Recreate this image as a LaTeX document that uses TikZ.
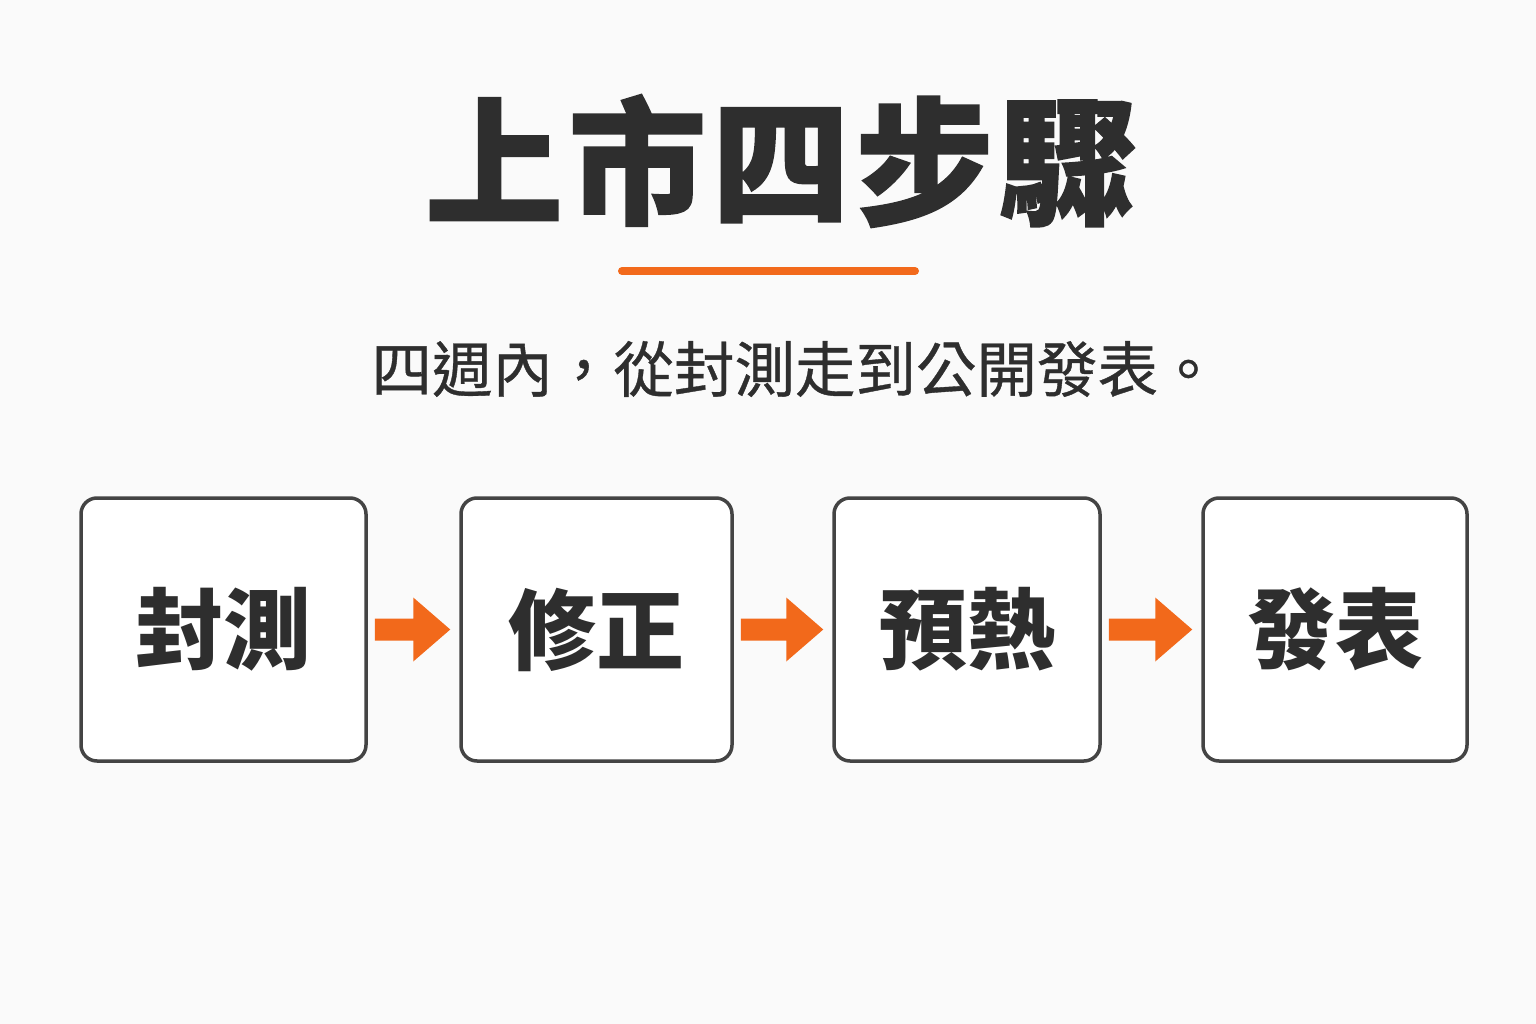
\documentclass[tikz,border=0pt]{standalone}
\usepackage{fontspec}
\usetikzlibrary{calc}
\newfontfamily\cjk{Noto Sans CJK TC}
\newfontfamily\cjkh{Noto Sans CJK TC}[BoldFeatures={FakeBold=1.2}, LetterSpace=4]
\newfontfamily\cjkm{Noto Sans CJK TC}[FakeBold=0.6]
\definecolor{bg}{HTML}{FAFAFA}
\definecolor{ink}{HTML}{2E2E2E}
\definecolor{boxline}{HTML}{444444}
\definecolor{accent}{HTML}{F2691B}
\tikzset{
  stepbox/.style={draw=boxline, line width=3.5pt, rounded corners=16pt, fill=white, minimum width=#1, minimum height=263pt, inner sep=0pt},
  steptext/.style={font=\cjk\bfseries\fontsize{88}{88}\selectfont, text=ink},
  flowarrow/.style={fill=accent, draw=none},
}
\begin{document}
\begin{tikzpicture}[x=1pt,y=-1pt]
\fill[bg] (0,0) rectangle (1536,1024);
\useasboundingbox (0,0) rectangle (1536,1024);
\node[font=\cjkh\bfseries\fontsize{138}{138}\selectfont, text=ink] (title) at (781,161) {上市四步驟};
\coordinate (ulA) at (622,271);
\coordinate (ulB) at (915,271);
\draw[accent, line width=8pt, line cap=round] (ulA) -- (ulB);
\node[font=\cjkm\fontsize{60.5}{60.5}\selectfont, text=ink] (sub) at (795,369) {四週內，從封測走到公開發表。};
\node[stepbox=285pt] (b1) at (223.5,629.5) {};
\node[stepbox=271pt] (b2) at (596.5,629.5) {};
\node[stepbox=266pt] (b3) at (967,629.5) {};
\node[stepbox=264pt] (b4) at (1335,629.5) {};
\node[steptext] (t1) at (b1) {封測};
\node[steptext] (t2) at (b2) {修正};
\node[steptext] (t3) at (b3) {預熱};
\node[steptext] (t4) at (b4) {發表};
\foreach \a/\b in {b1/b2,b2/b3,b3/b4}{
  \path (\a.east) ++(7,0) coordinate (s) ;
  \path (\b.west) ++(-9,0) coordinate (e) ;
  \fill[flowarrow] ($(s)+(0,-11)$) -- ($(e)+(-37,-11)$) -- ($(e)+(-37,-32)$) -- (e) -- ($(e)+(-37,32)$) -- ($(e)+(-37,11)$) -- ($(s)+(0,11)$) -- cycle;
}
\end{tikzpicture}
\end{document}
